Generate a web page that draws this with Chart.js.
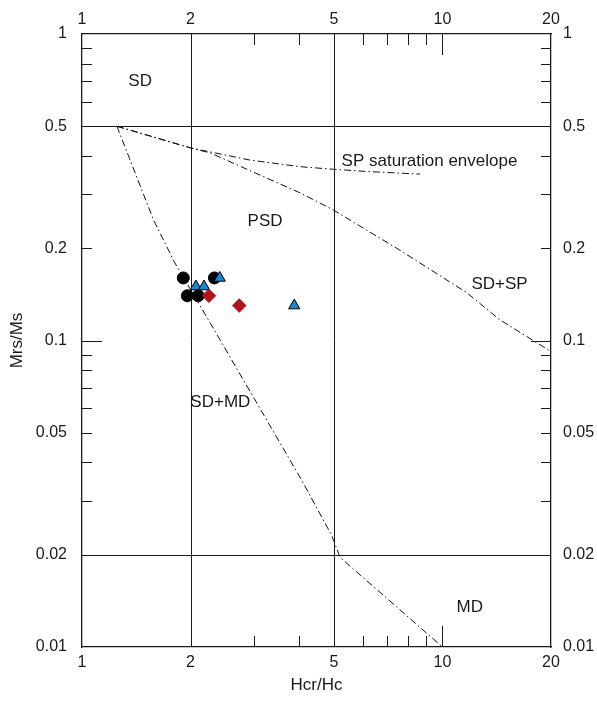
<!DOCTYPE html>
<html>
<head>
<meta charset="utf-8">
<script src="https://cdn.jsdelivr.net/npm/chart.js@4.4.1/dist/chart.umd.min.js"></script>
<style>
  html, body { margin: 0; padding: 0; background: #fff; }
  #wrap { width: 597px; height: 702px; }
</style>
</head>
<body>
<div id="wrap"><canvas id="dayPlot"></canvas></div>
<script>
// axis ticks
const xTickValues = [1, 2, 5, 10, 20];
const yTickValues = [0.01, 0.02, 0.05, 0.1, 0.2, 0.5, 1];
const xMinorTicks = [3, 4, 6, 7, 8, 9];
const xLongTicks = [10];
const yMinorTicks = [0.03, 0.04, 0.05, 0.06, 0.07, 0.08, 0.09, 0.2, 0.3, 0.4, 0.6, 0.7, 0.8, 0.9];
const yLongTicks = [0.1];
const xGridLines = [2, 5];
const yGridLines = [0.02, 0.5];

// samples
const circleHcr = [1.91, 1.96, 2.10, 2.33];
const circleMrs = [0.16, 0.14, 0.14, 0.16];
const triangleHcr = [2.07, 2.18, 2.41, 3.88];
const triangleMrs = [0.15, 0.15, 0.16, 0.13];
const diamondHcr = [2.25, 2.73];
const diamondMrs = [0.14, 0.13];

// reference curves
const sdmdHcr = [1.25, 1.58, 1.81, 2.24, 4.07, 4.93, 5.2, 10];
const sdmdMrs = [0.5, 0.247, 0.179, 0.117, 0.035, 0.0231, 0.0196, 0.01];
const sdspHcr = [1.25, 2.0, 2.27, 4.03, 4.97, 7.62, 11.7, 14.4, 20];
const sdspMrs = [0.5, 0.425, 0.409, 0.303, 0.267, 0.197, 0.143, 0.117, 0.092];
const envHcr = [1.25, 2.0, 2.92, 4.03, 4.98, 6.16, 8.66];
const envMrs = [0.5, 0.425, 0.388, 0.369, 0.362, 0.356, 0.349];

// region labels
const regionText = ["SD", "PSD", "SP saturation envelope", "SD+SP", "SD+MD", "MD"];
const regionHcr = [1.45, 3.22, 5.25, 14.4, 2.42, 11.9];
const regionMrs = [0.70, 0.244, 0.3835, 0.152, 0.063, 0.0135];
const regionAlign = ["center", "center", "left", "center", "center", "center"];

const FONT = "'Liberation Sans', Arial, Helvetica, sans-serif";
const pts = (xs, ys) => xs.map((v, i) => ({ x: v, y: ys[i] }));

const curve = (xs, ys) => ({
  data: pts(xs, ys),
  showLine: true,
  borderColor: "#111",
  borderWidth: 1,
  borderDash: [7, 3, 1.5, 3],
  pointRadius: 0,
  fill: false,
  order: 10
});

const framePlugin = {
  id: "frame",
  beforeDatasetsDraw(chart) {
    const { ctx, chartArea: a, scales } = chart;
    const xs = scales.x, ys = scales.y;
    ctx.save();
    ctx.strokeStyle = "#1a1a1a";
    ctx.lineWidth = 1;
    ctx.beginPath();
    xGridLines.forEach(v => {
      const px = Math.round(xs.getPixelForValue(v)) + 0.5;
      ctx.moveTo(px, a.top);
      ctx.lineTo(px, a.bottom);
    });
    yGridLines.forEach(v => {
      const py = Math.round(ys.getPixelForValue(v)) + 0.5;
      ctx.moveTo(a.left, py);
      ctx.lineTo(a.right, py);
    });
    const xTick = (vals, len) => vals.forEach(v => {
      const px = Math.round(xs.getPixelForValue(v)) + 0.5;
      ctx.moveTo(px, a.bottom);
      ctx.lineTo(px, a.bottom - len);
      ctx.moveTo(px, a.top);
      ctx.lineTo(px, a.top + len);
    });
    const yTick = (vals, len) => vals.forEach(v => {
      const py = Math.round(ys.getPixelForValue(v)) + 0.5;
      ctx.moveTo(a.left, py);
      ctx.lineTo(a.left + len, py);
      ctx.moveTo(a.right, py);
      ctx.lineTo(a.right - len, py);
    });
    xTick(xMinorTicks, 11);
    xTick(xLongTicks, 21);
    yTick(yMinorTicks, 10);
    yTick(yLongTicks, 20);
    ctx.stroke();
    ctx.restore();
  },
  afterDatasetsDraw(chart) {
    const { ctx, scales } = chart;
    ctx.save();
    ctx.fillStyle = "#1a1a1a";
    ctx.font = "17px " + FONT;
    ctx.textBaseline = "middle";
    regionText.forEach((t, i) => {
      ctx.textAlign = regionAlign[i];
      ctx.fillText(t, scales.x.getPixelForValue(regionHcr[i]), scales.y.getPixelForValue(regionMrs[i]));
    });
    ctx.restore();
  }
};

const tickFont = { family: FONT, size: 16 };
const border = { display: true, color: "#1a1a1a", width: 1.3 };

function logAxis(position, min, max, values, size, pad, title) {
  const horizontal = position === "top" || position === "bottom";
  return {
    type: "logarithmic",
    position: position,
    min: min,
    max: max,
    afterBuildTicks: s => { s.ticks = values.map(v => ({ value: v })); },
    afterFit: s => { if (horizontal) s.height = size; else s.width = size; },
    ticks: {
      autoSkip: false,
      maxRotation: 0,
      padding: pad,
      color: "#1a1a1a",
      font: tickFont,
      callback: v => String(v)
    },
    grid: { display: false, drawTicks: false },
    border: border,
    title: title ? {
      display: true,
      text: title,
      color: "#1a1a1a",
      font: { family: FONT, size: 17 },
      padding: { top: 7, bottom: 6 }
    } : { display: false }
  };
}

document.addEventListener("DOMContentLoaded", () => {
  const ctx = document.getElementById("dayPlot").getContext("2d");

  new Chart(ctx, {
    type: "scatter",
    data: {
      datasets: [
        curve(sdmdHcr, sdmdMrs),
        curve(sdspHcr, sdspMrs),
        curve(envHcr, envMrs),
        {
          data: pts(circleHcr, circleMrs),
          pointStyle: "circle",
          pointRadius: 6,
          backgroundColor: "#000",
          borderColor: "#000",
          borderWidth: 1,
          order: 3
        },
        {
          data: pts(triangleHcr, triangleMrs),
          pointStyle: "triangle",
          pointRadius: 6.5,
          backgroundColor: "#1b87cf",
          borderColor: "#000",
          borderWidth: 1,
          order: 2
        },
        {
          data: pts(diamondHcr, diamondMrs),
          pointStyle: "rectRot",
          pointRadius: 7,
          backgroundColor: "#b3121d",
          borderColor: "#9a0f18",
          borderWidth: 0.5,
          order: 1
        }
      ]
    },
    plugins: [framePlugin],
    options: {
      responsive: true,
      maintainAspectRatio: false,
      animation: false,
      layout: { padding: 0 },
      plugins: {
        legend: { display: false },
        tooltip: { enabled: false }
      },
      scales: {
        x: logAxis("bottom", 1, 20, xTickValues, 55, 6, "Hcr/Hc"),
        x2: logAxis("top", 1, 20, xTickValues, 34, 5, null),
        y: logAxis("left", 0.01, 1, yTickValues, 82, 15, "Mrs/Ms"),
        y2: logAxis("right", 0.01, 1, yTickValues, 46, 12, null)
      }
    }
  });
});
</script>
</body>
</html>
